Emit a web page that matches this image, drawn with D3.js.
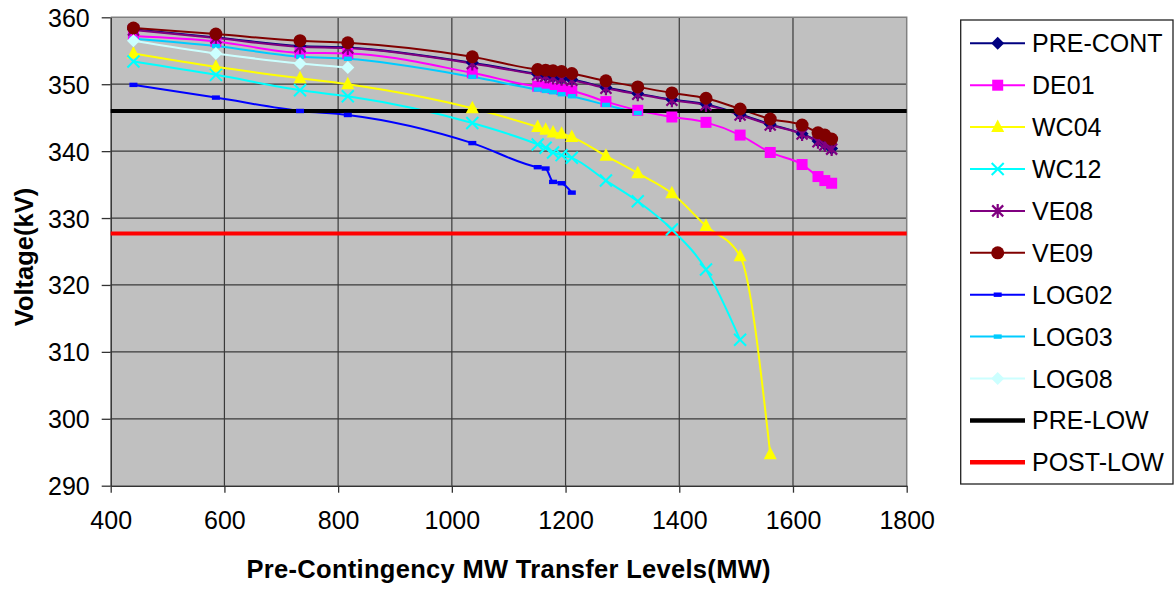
<!DOCTYPE html>
<html><head><meta charset="utf-8">
<script src="https://cdn.jsdelivr.net/npm/d3@7"></script>
<style>body{margin:0;background:#fff;} text{font-family:"Liberation Sans",Arial,sans-serif;}</style>
</head><body>
<svg id="c" width="1175" height="590"></svg>
<script>
const transfer = [440, 585, 733, 817, 1036, 1151, 1165, 1178, 1193, 1211, 1271, 1327, 1387, 1447, 1507, 1560, 1616, 1644, 1656, 1668];
const preCont = [358.2, 357.0, 355.7, 355.5, 353.2, 351.5, 351.3, 351.1, 350.9, 350.7, 349.5, 348.6, 347.7, 347.0, 345.5, 344.0, 342.6, 341.5, 341.0, 340.4];
const de01   = [357.2, 356.4, 354.7, 354.6, 351.7, 349.7, 349.6, 349.4, 349.2, 349.0, 347.4, 346.1, 345.1, 344.3, 342.4, 339.8, 338.0, 336.2, 335.6, 335.2];
const wc04   = [354.6, 352.6, 350.9, 350.0, 346.4, 343.6, 343.2, 342.8, 342.6, 342.1, 339.3, 336.7, 333.7, 328.8, 324.3, 294.7];
const wc12   = [353.4, 351.4, 349.1, 348.2, 344.2, 341.0, 340.5, 339.8, 339.4, 339.0, 335.6, 332.5, 328.3, 322.3, 311.8];
const ve08   = [358.1, 356.9, 355.6, 355.4, 353.1, 351.4, 351.2, 351.0, 350.8, 350.6, 349.4, 348.5, 347.6, 346.9, 345.4, 343.9, 342.55, 341.4, 340.9, 340.3];
const ve09   = [358.4, 357.5, 356.5, 356.2, 354.1, 352.2, 352.1, 352.0, 351.9, 351.6, 350.5, 349.6, 348.7, 347.9, 346.3, 344.8, 343.9, 342.75, 342.4, 341.8];
const log02  = [349.9, 348.0, 346.0, 345.4, 341.2, 337.6, 337.4, 335.4, 335.2, 333.8];
const log03  = [356.8, 355.7, 354.1, 353.8, 351.1, 349.2, 349.0, 348.8, 348.5, 348.2, 346.9, 345.7];
const log08  = [356.5, 354.6, 353.1, 352.5];
const preLow = 346;
const postLow = 327.7;
const xTicks = [400, 600, 800, 1000, 1200, 1400, 1600, 1800];
const yTicks = [290, 300, 310, 320, 330, 340, 350, 360];

const series = [
  {name:"PRE-CONT", values:preCont, color:"#000080", marker:"diamond"},
  {name:"DE01", values:de01, color:"#FF00FF", marker:"square"},
  {name:"WC04", values:wc04, color:"#FFFF00", marker:"triangle"},
  {name:"WC12", values:wc12, color:"#00FFFF", marker:"x"},
  {name:"VE08", values:ve08, color:"#800080", marker:"star"},
  {name:"VE09", values:ve09, color:"#800000", marker:"circle"},
  {name:"LOG02", values:log02, color:"#0000FF", marker:"dash"},
  {name:"LOG03", values:log03, color:"#00CCFF", marker:"dash"},
  {name:"LOG08", values:log08, color:"#CCFFFF", marker:"diamond"}
];
const limits = [
  {name:"PRE-LOW", value:preLow, color:"#000000"},
  {name:"POST-LOW", value:postLow, color:"#FF0000"}
];

const svg = d3.select("#c");
const L = 110.7, R = 906.7, T = 17.3, B = 485.7;
const x = d3.scaleLinear().domain([400,1800]).range([L,R]);
const y = d3.scaleLinear().domain([290,360]).range([B,T]);

// plot background
svg.append("rect").attr("x",L).attr("y",T).attr("width",R-L).attr("height",B-T).attr("fill","#C0C0C0");
// grid
svg.append("g").selectAll("line").data(xTicks.slice(1,-1)).join("line")
  .attr("x1",d=>x(d)).attr("x2",d=>x(d)).attr("y1",T).attr("y2",B)
  .attr("stroke","#3a3a3a").attr("stroke-width",1.2);
svg.append("g").selectAll("line").data(yTicks.slice(1,-1)).join("line")
  .attr("y1",d=>y(d)).attr("y2",d=>y(d)).attr("x1",L).attr("x2",R)
  .attr("stroke","#3a3a3a").attr("stroke-width",1.2);
// top/right border
svg.append("path").attr("d",`M${L},${T}H${R}V${B}`).attr("fill","none").attr("stroke","#808080").attr("stroke-width",1.5);

// axes
const xAxis = svg.append("g").attr("transform",`translate(0,${B})`)
  .call(d3.axisBottom(x).tickValues(xTicks).tickSize(7).tickSizeOuter(0).tickPadding(24).tickFormat(d3.format("d")));
const yAxis = svg.append("g").attr("transform",`translate(${L},0)`)
  .call(d3.axisLeft(y).tickValues(yTicks).tickSize(9).tickSizeOuter(0).tickPadding(12).tickFormat(d3.format("d")));
[xAxis,yAxis].forEach(a=>{
  a.select(".domain").attr("stroke","#333").attr("stroke-width",1.5);
  a.selectAll(".tick line").attr("stroke","#333").attr("stroke-width",1.3);
  a.selectAll(".tick text").attr("font-size",25).attr("fill","#000").attr("font-family","Liberation Sans, Arial, sans-serif");
});
xAxis.selectAll(".tick text").attr("dy","0.5em");
yAxis.selectAll(".tick text").attr("dy","0.36em");

// axis titles
svg.append("text").attr("x",(L+R)/2).attr("y",578).attr("text-anchor","middle")
  .attr("font-size",25.5).attr("font-weight","bold").attr("letter-spacing","0.3")
  .text("Pre-Contingency MW Transfer Levels(MW)");
svg.append("text").attr("transform",`translate(33,257) rotate(-90)`).attr("text-anchor","middle")
  .attr("font-size",25.5).attr("font-weight","bold")
  .text("Voltage(kV)");

// marker drawing
function drawMarker(g, type, color, cx, cy){
  switch(type){
    case "diamond":
      g.append("path").attr("d",`M${cx},${cy-6.5}L${cx+6.5},${cy}L${cx},${cy+6.5}L${cx-6.5},${cy}Z`).attr("fill",color); break;
    case "square":
      g.append("rect").attr("x",cx-5.5).attr("y",cy-5.5).attr("width",11).attr("height",11).attr("fill",color); break;
    case "triangle":
      g.append("path").attr("d",`M${cx},${cy-7.5}L${cx+6.5},${cy+5}L${cx-6.5},${cy+5}Z`).attr("fill",color); break;
    case "x":
      g.append("path").attr("d",`M${cx-6},${cy-6}L${cx+6},${cy+6}M${cx+6},${cy-6}L${cx-6},${cy+6}`).attr("stroke",color).attr("stroke-width",2).attr("fill","none"); break;
    case "star":
      g.append("path").attr("d",`M${cx-5.5},${cy-5.5}L${cx+5.5},${cy+5.5}M${cx+5.5},${cy-5.5}L${cx-5.5},${cy+5.5}M${cx},${cy-7}L${cx},${cy+7}`).attr("stroke",color).attr("stroke-width",2.2).attr("fill","none"); break;
    case "circle":
      g.append("circle").attr("cx",cx).attr("cy",cy).attr("r",6.5).attr("fill",color); break;
    case "dash":
      g.append("rect").attr("x",cx-4).attr("y",cy-2.2).attr("width",8).attr("height",4.4).attr("fill",color); break;
  }
}

const line = d3.line().x(d=>x(d[0])).y(d=>y(d[1])).curve(d3.curveMonotoneX);
const lineG = svg.append("g");
series.forEach(s=>{
  const pts = s.values.map((v,i)=>[transfer[i],v]);
  lineG.append("path").attr("d",line(pts)).attr("fill","none").attr("stroke",s.color).attr("stroke-width",2);
});
// limit lines
limits.forEach(l=>{
  svg.append("line").attr("x1",x(400)).attr("x2",x(1800)).attr("y1",y(l.value)).attr("y2",y(l.value))
    .attr("stroke",l.color).attr("stroke-width",4);
});
const markG = svg.append("g");
series.forEach(s=>{
  s.values.forEach((v,i)=>drawMarker(markG, s.marker, s.color, x(transfer[i]), y(v)));
});

// legend
const lg = svg.append("g");
lg.append("rect").attr("x",960.7).attr("y",20).attr("width",212.3).attr("height",464).attr("fill","#fff").attr("stroke","#222").attr("stroke-width",1.3);
const items = series.map(s=>({name:s.name,color:s.color,marker:s.marker,w:2}))
  .concat(limits.map(l=>({name:l.name,color:l.color,marker:null,w:4.5})));
items.forEach((it,i)=>{
  const cy = 43.3 + i*41.9;
  lg.append("line").attr("x1",970).attr("x2",1025).attr("y1",cy).attr("y2",cy).attr("stroke",it.color).attr("stroke-width",it.w);
  if(it.marker) drawMarker(lg, it.marker, it.color, 997.7, cy);
  lg.append("text").attr("x",1032).attr("y",cy).attr("dy","0.36em").attr("font-size",25).text(it.name);
});
</script>
</body></html>
